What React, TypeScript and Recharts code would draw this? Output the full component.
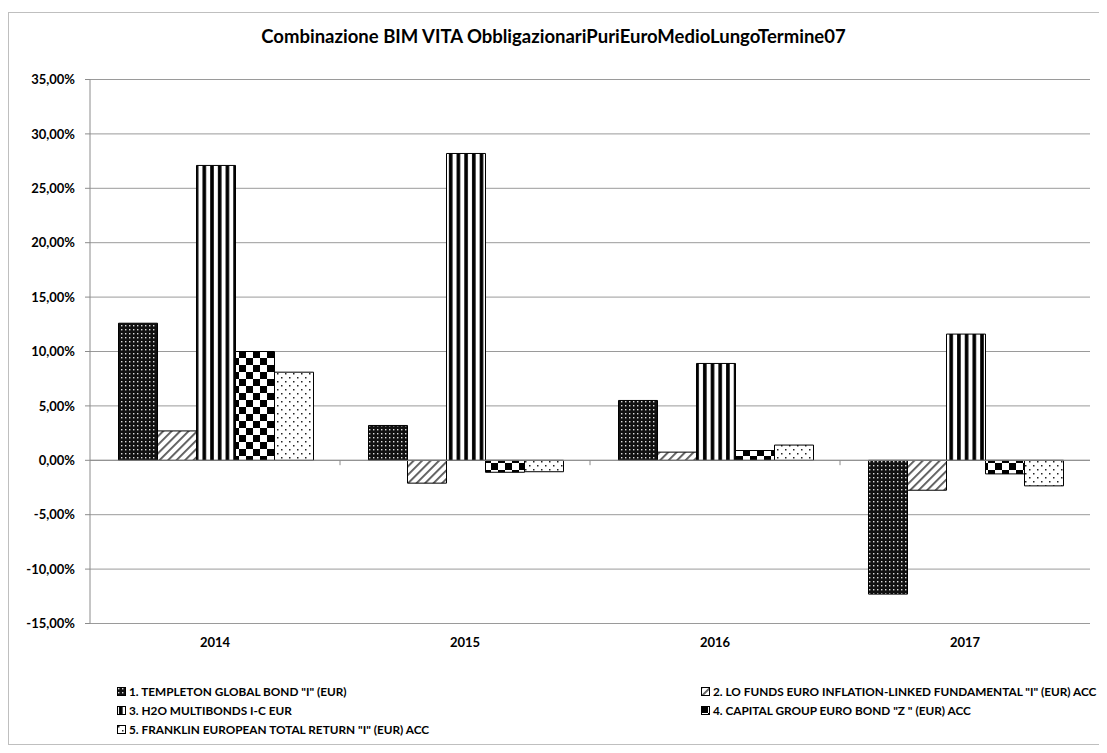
import React from 'react';
import { BarChart, Bar, XAxis, YAxis, CartesianGrid, ReferenceLine } from 'recharts';

const categories = ['2014', '2015', '2016', '2017'];
const templeton = [12.6, 3.2, 5.5, -12.3];
const loFunds = [2.7, -2.1, 0.75, -2.75];
const h2o = [27.1, 28.2, 8.9, 11.6];
const capital = [10.0, -1.1, 0.9, -1.25];
const franklin = [8.1, -1.05, 1.4, -2.35];
const yTicks = [-15, -10, -5, 0, 5, 10, 15, 20, 25, 30, 35];
const seriesNames = [
  '1. TEMPLETON GLOBAL BOND "I" (EUR)',
  '2. LO FUNDS EURO INFLATION-LINKED FUNDAMENTAL "I" (EUR) ACC',
  '3. H2O MULTIBONDS I-C EUR',
  '4. CAPITAL GROUP EURO BOND "Z " (EUR) ACC',
  '5. FRANKLIN EUROPEAN TOTAL RETURN "I" (EUR) ACC',
];
const title = 'Combinazione BIM VITA ObbligazionariPuriEuroMedioLungoTermine07';

const seriesKeys = ['s1', 's2', 's3', 's4', 's5'];
const seriesValues = [templeton, loFunds, h2o, capital, franklin];
const patternIds = ['pat1', 'pat2', 'pat3', 'pat4', 'pat5'];

const data = categories.map((c, i) => {
  const row: Record<string, string | number> = { cat: c };
  seriesKeys.forEach((k, j) => {
    row[k] = seriesValues[j][i];
  });
  return row;
});

const FONT = 'Lato, "Open Sans", sans-serif';

const fmt = (v: number) => v.toFixed(2).replace('.', ',') + '%';

function Patterns() {
  return (
    <svg width={0} height={0} style={{ position: 'absolute' }}>
      <defs>
        <pattern id="pat1" width={4} height={4} patternUnits="userSpaceOnUse">
          <rect width={4} height={4} fill="#111" />
          <rect x={1} y={1} width={1.4} height={1.4} fill="#ddd" />
        </pattern>
        <pattern id="pat2" width={6} height={6} patternUnits="userSpaceOnUse" patternTransform="rotate(45)">
          <rect width={6} height={6} fill="#fff" />
          <rect x={0} y={0} width={1.8} height={6} fill="#555" />
        </pattern>
        <pattern id="pat3" width={7.7} height={8} patternUnits="userSpaceOnUse">
          <rect width={7.7} height={8} fill="#fff" />
          <rect x={2} y={0} width={3.6} height={8} fill="#000" />
        </pattern>
        <pattern id="pat4" width={14} height={14} patternUnits="userSpaceOnUse">
          <rect width={14} height={14} fill="#fff" />
          <rect x={0} y={0} width={7} height={7} fill="#000" />
          <rect x={7} y={7} width={7} height={7} fill="#000" />
        </pattern>
        <pattern id="pat5" width={8} height={8} patternUnits="userSpaceOnUse">
          <rect width={8} height={8} fill="#fff" />
          <rect x={1} y={1} width={1.5} height={1.5} fill="#222" />
          <rect x={5} y={5} width={1.5} height={1.5} fill="#222" />
        </pattern>
      </defs>
    </svg>
  );
}

function LegendItem({ idx }: { idx: number }) {
  return (
    <div style={{ display: 'flex', alignItems: 'center', height: 19 }}>
      <svg width={9} height={9} style={{ marginRight: 3 }}>
        <rect x={0.5} y={0.5} width={8} height={8} fill={`url(#${patternIds[idx]})`} stroke="#000" strokeWidth={1} />
      </svg>
      <span>{seriesNames[idx]}</span>
    </div>
  );
}

export default function App() {
  return (
    <div style={{ position: 'relative', width: 1091, height: 737, fontFamily: FONT, background: '#fff' }}>
      <Patterns />
      <div
        style={{
          position: 'absolute',
          left: 0,
          top: 4,
          width: 1093,
          height: 733,
          border: '1px solid #bfbfbf',
          boxSizing: 'border-box',
        }}
      />
      <div
        style={{
          position: 'absolute',
          left: 0,
          width: 1091,
          top: 17,
          textAlign: 'center',
          fontWeight: 700,
          fontSize: 18.5,
          color: '#000',
        }}
      >
        {title}
      </div>
      <div style={{ position: 'absolute', left: 0, top: 0 }}>
        <BarChart
          width={1091}
          height={737}
          data={data}
          margin={{ top: 71.5, right: 9, bottom: 91.5, left: 12 }}
          barCategoryGap="11.4%"
          barGap={0}
        >
          <CartesianGrid vertical={false} stroke="#9a9a9a" strokeWidth={1} />
          <XAxis
            dataKey="cat"
            axisLine={false}
            tickLine={false}
            tickSize={0}
            tickMargin={14}
            height={30}
            tick={{ fill: '#000', fontSize: 13, fontWeight: 700, fontFamily: FONT }}
          />
          <YAxis
            domain={[-15, 35]}
            ticks={yTicks}
            interval={0}
            width={70}
            tickFormatter={fmt}
            axisLine={{ stroke: '#8c8c8c' }}
            tickLine={{ stroke: '#8c8c8c' }}
            tickSize={5}
            tickMargin={10}
            tick={{ fill: '#000', fontSize: 13, fontWeight: 700, fontFamily: FONT }}
          />
          {seriesKeys.map((k, j) => (
            <Bar
              key={k}
              dataKey={k}
              fill={`url(#${patternIds[j]})`}
              stroke="#000"
              strokeWidth={1}
              isAnimationActive={false}
            />
          ))}
          <ReferenceLine y={0} stroke="#8c8c8c" strokeWidth={1} />
          {categories.slice(1).map((c) => (
            <ReferenceLine
              key={c}
              position="start"
              stroke="#8c8c8c"
              segment={[
                { x: c, y: 0 },
                { x: c, y: -0.45 },
              ]}
            />
          ))}
        </BarChart>
      </div>
      <div
        style={{
          position: 'absolute',
          left: 109,
          top: 674,
          fontSize: 11.8,
          fontWeight: 700,
          color: '#000',
          lineHeight: '19px',
        }}
      >
        <LegendItem idx={0} />
        <LegendItem idx={2} />
        <LegendItem idx={4} />
      </div>
      <div
        style={{
          position: 'absolute',
          left: 693,
          top: 674,
          fontSize: 11.8,
          fontWeight: 700,
          color: '#000',
          lineHeight: '19px',
        }}
      >
        <LegendItem idx={1} />
        <LegendItem idx={3} />
      </div>
    </div>
  );
}
